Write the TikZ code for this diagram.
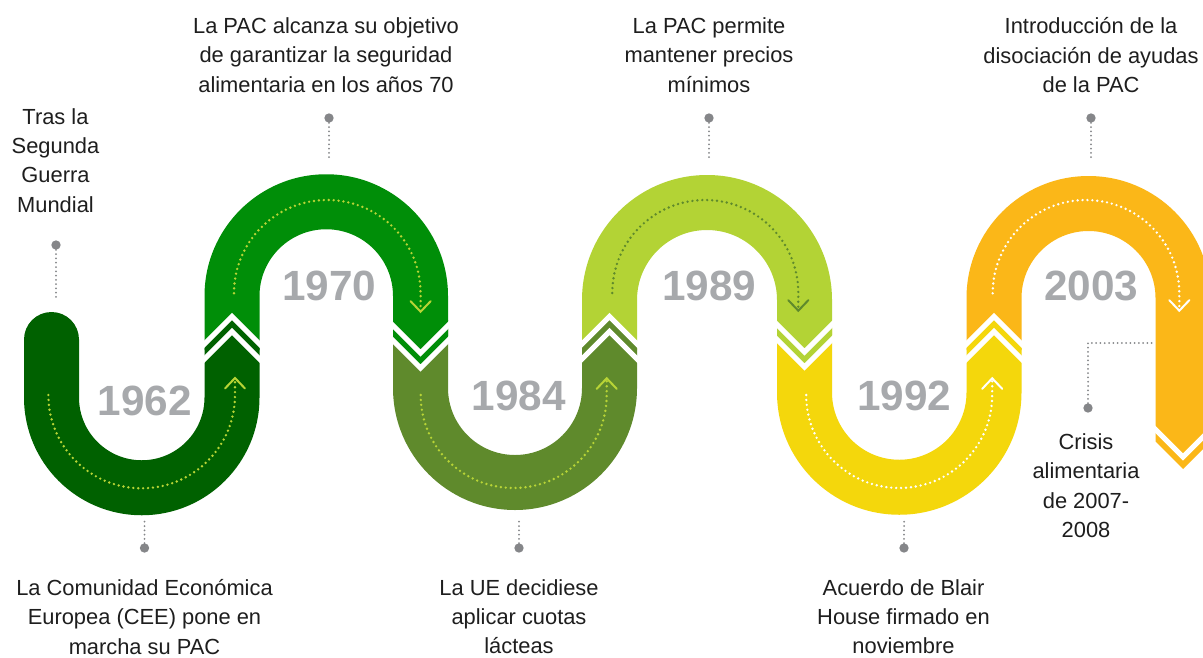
\documentclass[tikz,border=0pt]{standalone}
\usepackage{fontspec}
\setmainfont{Liberation Sans}
\definecolor{cA}{HTML}{006100}
\definecolor{cB}{HTML}{008E08}
\definecolor{cC}{HTML}{5F8A2C}
\definecolor{cD}{HTML}{B3D335}
\definecolor{cE}{HTML}{F4D70C}
\definecolor{cF}{HTML}{FBB718}
\definecolor{yeargray}{HTML}{A7A9AC}
\definecolor{limedot}{HTML}{B8D436}
\definecolor{conngray}{HTML}{858689}
\definecolor{txt}{HTML}{1E1E1E}
\tikzset{
  seam/.style={draw=white, line width=3.9pt, line join=miter, line cap=butt},
  trail/.style={line width=2pt, line cap=round, dash pattern=on 0pt off 3.7pt},
  arrowarm/.style={line width=1.5pt, line cap=round, line join=miter},
  yr/.style={font=\fontsize{31.7}{34}\selectfont\bfseries, text=yeargray, inner sep=0pt, anchor=base},
  evt/.style={font=\fontsize{16.4}{22}\selectfont, text=txt, align=center, inner sep=0pt, anchor=north, execute at begin node=\strut},
  dotpin/.style={circle, fill=conngray, minimum size=7pt, inner sep=0pt},
  conn/.style={draw=conngray, line width=1.5pt, line cap=round, dash pattern=on 0pt off 3.2pt},
}
\begin{document}
\begin{tikzpicture}[x=0.75pt, y=-0.75pt]
\useasboundingbox (0,0) rectangle (1203,657);
\fill[white] (0,0) rectangle (1203,657);
\clip (0,0) rectangle (1203,657);

% segments, drawn from last to first
\fill[cF] (966.5,350) -- (966.5,298) arc[start angle=180,end angle=360,radius=122] -- (1210.5,441.5) -- (1183,469) -- (1155.5,441.5) -- (1155.5,298) arc[start angle=360,end angle=180,radius=67] -- (1021.5,350) -- cycle;
\fill[cE] (777,320) -- (777,392.5) arc[start angle=180,end angle=0,radius=122.25] -- (1021.5,344) -- (994,316.5) -- (966.5,344) -- (966.5,392.5) arc[start angle=0,end angle=180,radius=67.25] -- (832,320) -- cycle;
\fill[cD] (582,350) -- (582,300) arc[start angle=180,end angle=360,radius=125] -- (832,339.5) -- (804.5,367) -- (777,339.5) -- (777,300) arc[start angle=360,end angle=180,radius=70] -- (637,350) -- cycle;
\fill[cC] (393,320) -- (393,388) arc[start angle=180,end angle=0,radius=122] -- (637,344) -- (609.5,316.5) -- (582,344) -- (582,388) arc[start angle=0,end angle=180,radius=67] -- (448,320) -- cycle;
\fill[cB] (204.5,350) -- (204.5,296) arc[start angle=180,end angle=360,radius=121.75] -- (448,340.5) -- (420.5,368) -- (393,340.5) -- (393,296) arc[start angle=360,end angle=180,radius=66.75] -- (259.5,350) -- cycle;
\fill[cA] (24,339.5) -- (24,397.5) arc[start angle=180,end angle=0,radius=117.75] -- (259.5,344) -- (232,316.5) -- (204.5,344) -- (204.5,397.5) arc[start angle=0,end angle=180,radius=62.75] -- (79,339.5) arc[start angle=0,end angle=-180,radius=27.5] -- cycle;

% white chevron seams
\draw[seam] (197,351.5) -- (232,316.5) -- (267,351.5);
\draw[seam] (197,366.5) -- (232,331.5) -- (267,366.5);
\draw[seam] (385.5,318) -- (420.5,353) -- (455.5,318);
\draw[seam] (385.5,333) -- (420.5,368) -- (455.5,333);
\draw[seam] (574.5,351.5) -- (609.5,316.5) -- (644.5,351.5);
\draw[seam] (574.5,366.5) -- (609.5,331.5) -- (644.5,366.5);
\draw[seam] (769.5,317) -- (804.5,352) -- (839.5,317);
\draw[seam] (769.5,332) -- (804.5,367) -- (839.5,332);
\draw[seam] (959,351.5) -- (994,316.5) -- (1029,351.5);
\draw[seam] (959,366.5) -- (994,331.5) -- (1029,366.5);
\draw[seam] (1148,422) -- (1183,457) -- (1218,422);

% dotted direction trails
\draw[trail, limedot] (48.4,395) arc[start angle=180,end angle=0,radius=93.3] -- (235,378);
\draw[arrowarm, limedot] (225,388.5) -- (235,378) -- (245,388.5);
\draw[trail, limedot] (234,293.3) arc[start angle=180,end angle=360,radius=93.3] -- (420.6,311.7);
\draw[arrowarm, limedot] (410.6,301.2) -- (420.6,311.7) -- (430.6,301.2);
\draw[trail, limedot] (420.7,395) arc[start angle=180,end angle=0,radius=93] -- (606.7,378.3);
\draw[arrowarm, limedot] (596.7,388.8) -- (606.7,378.3) -- (616.7,388.8);
\draw[trail, cC] (612.3,293) arc[start angle=180,end angle=360,radius=93] -- (798.3,310.7);
\draw[arrowarm, cC] (788.3,300.2) -- (798.3,310.7) -- (808.3,300.2);
\draw[trail, white] (806.2,395) arc[start angle=180,end angle=0,radius=93] -- (992.2,378.3);
\draw[arrowarm, white] (982.2,388.8) -- (992.2,378.3) -- (1002.2,388.8);
\draw[trail, white] (992.7,293.3) arc[start angle=180,end angle=360,radius=93.3] -- (1179.3,310.7);
\draw[arrowarm, white] (1169.3,300.2) -- (1179.3,310.7) -- (1189.3,300.2);

% years
\node[yr] (y62) at (145,415) {1962};
\node[yr] (y70) at (329.2,300) {1970};
\node[yr] (y84) at (518.8,410) {1984};
\node[yr] (y89) at (709.3,300) {1989};
\node[yr] (y92) at (904.2,410) {1992};
\node[yr] (y03) at (1091.2,300) {2003};

% event labels
\node[evt] (t1) at (55.5,108) {Tras la\\Segunda\\Guerra\\Mundial};
\node[evt] (t2) at (326,17.5) {La PAC alcanza su objetivo\\de garantizar la seguridad\\alimentaria en los años 70};
\node[evt] (t3) at (709,17.5) {La PAC permite\\mantener precios\\mínimos};
\node[evt] (t4) at (1091,17.5) {Introducción de la\\disociación de ayudas\\de la PAC};
\node[evt] (b1) at (144.5,579) {La Comunidad Económica\\Europea (CEE) pone en\\marcha su PAC};
\node[evt] (b2) at (519,579) {La UE decidiese\\aplicar cuotas\\lácteas};
\node[evt] (b3) at (903.5,579) {Acuerdo de Blair\\House firmado en\\noviembre};
\node[evt] (b4) at (1086,433.5) {Crisis\\alimentaria\\de 2007-\\2008};

% pins and connectors
\node[dotpin] (p1) at (56,245) {};
\node[dotpin] (p2) at (329,118) {};
\node[dotpin] (p3) at (709,118) {};
\node[dotpin] (p4) at (1091,118) {};
\node[dotpin] (p5) at (144.5,548) {};
\node[dotpin] (p6) at (519,548) {};
\node[dotpin] (p7) at (904,548) {};
\node[dotpin] (p8) at (1088,408) {};
\coordinate (q1) at (56,300);
\coordinate (q2) at (329,160);
\coordinate (q3) at (709,160);
\coordinate (q4) at (1091,160);
\coordinate (q5) at (144.5,518);
\coordinate (q6) at (519,518);
\coordinate (q7) at (904,518);
\coordinate (q8) at (1155,343);
\draw[conn] (p1) -- (q1);
\draw[conn] (p2) -- (q2);
\draw[conn] (p3) -- (q3);
\draw[conn] (p4) -- (q4);
\draw[conn] (p5) -- (q5);
\draw[conn] (p6) -- (q6);
\draw[conn] (p7) -- (q7);
\draw[conn] (p8) |- (q8);
\end{tikzpicture}
\end{document}
